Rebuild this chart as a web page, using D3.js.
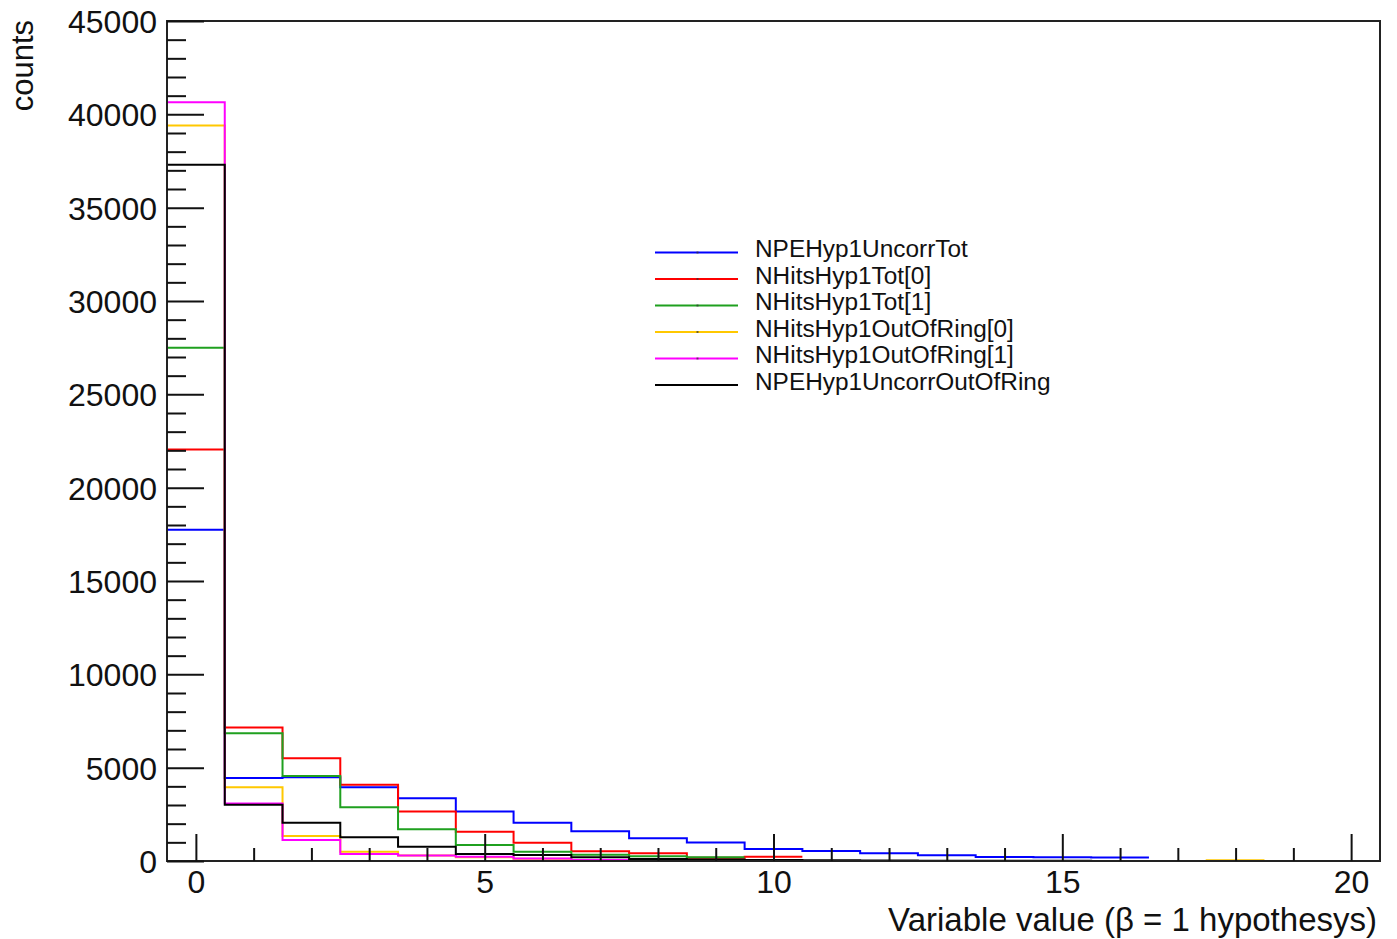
<!DOCTYPE html>
<html>
<head>
<meta charset="utf-8">
<script src="https://cdn.jsdelivr.net/npm/d3@7"></script>
<style>
  html, body { margin: 0; padding: 0; background: #fff; }
  svg { display: block; }
  text { font-family: "Liberation Sans", Arial, Helvetica, sans-serif; fill: #111; }
</style>
</head>
<body>
<script>
// ---------------- data ----------------
const binCenters = d3.range(0, 21);           // bins of width 1 centred on 0..20
const xTickLabels = ["0", "5", "10", "15", "20"];
const yTickLabels = ["0", "5000", "10000", "15000", "20000", "25000", "30000", "35000", "40000", "45000"];

const seriesNames = [
  "NPEHyp1UncorrTot",
  "NHitsHyp1Tot[0]",
  "NHitsHyp1Tot[1]",
  "NHitsHyp1OutOfRing[0]",
  "NHitsHyp1OutOfRing[1]",
  "NPEHyp1UncorrOutOfRing"
];
const seriesColors = ["#0000ff", "#ff0000", "#1fa01f", "#ffc800", "#ff00ff", "#000000"];

const npeUncorrTot      = [17750, 4450, 4480, 3950, 3360, 2650, 2050, 1590, 1220, 990, 640, 530, 410, 310, 210, 200, 190];
const nHitsTot0         = [22050, 7150, 5500, 4080, 2650, 1570, 980, 520, 410, 180, 230];
const nHitsTot1         = [27500, 6850, 4560, 2880, 1700, 860, 500, 330, 250, 200];
const nHitsOutOfRing0   = [39400, 3950, 1340, 500, 290, 200, 120, 60, 40, 20, 10, 0, 0, 0, 0, 0, 0, 0, 40];
const nHitsOutOfRing1   = [40650, 3080, 1130, 380, 300, 230, 140, 55, 45, 10, 0, 0, 0, 0, 0, 0, 0, 0, 0, 0, 0];
const npeUncorrOutOfRing= [37300, 3020, 2050, 1270, 770, 380, 320, 200, 110, 80, 60, 40, 30, 20, 15, 10, 5];

const seriesValues = [npeUncorrTot, nHitsTot0, nHitsTot1, nHitsOutOfRing0, nHitsOutOfRing1, npeUncorrOutOfRing];

const xTitle = "Variable value (\u03B2 = 1 hypothesys)";
const yTitle = "counts";

// ---------------- layout ----------------
const W = 1397, H = 939;
const frame = { left: 167, top: 21, right: 1380, bottom: 861 };

const svg = d3.select("body").append("svg").attr("width", W).attr("height", H);
svg.append("rect").attr("width", W).attr("height", H).attr("fill", "#fff");

const x = d3.scaleLinear().domain([-0.5, 20.5]).range([frame.left, frame.right]);
const y = d3.scaleLinear().domain([0, 45000]).range([frame.bottom, frame.top]);

// ---------------- histograms ----------------
const line = d3.line().x(d => x(d[0])).y(d => y(d[1]));
seriesValues.forEach((vals, si) => {
  const pts = [];
  vals.forEach((v, i) => {
    pts.push([binCenters[i] - 0.5, v]);
    pts.push([binCenters[i] + 0.5, v]);
  });
  svg.append("path")
    .attr("d", line(pts))
    .attr("fill", "none")
    .attr("stroke", seriesColors[si])
    .attr("stroke-width", 2)
    .attr("stroke-linejoin", "miter");
});

// ---------------- frame ----------------
svg.append("rect")
  .attr("x", frame.left).attr("y", frame.top)
  .attr("width", frame.right - frame.left).attr("height", frame.bottom - frame.top)
  .attr("fill", "none").attr("stroke", "#222").attr("stroke-width", 2);

// ---------------- axes ----------------
const xMajor = xTickLabels.map(Number);
const xMinor = d3.range(0, 21).filter(v => !xMajor.includes(v));
const xAxisMajor = d3.axisBottom(x).tickValues(xMajor).tickSize(-27).tickFormat((d, i) => xTickLabels[i]);
const xAxisMinor = d3.axisBottom(x).tickValues(xMinor).tickSize(-13).tickFormat("");
const gxMin = svg.append("g").attr("transform", `translate(0,${frame.bottom})`).call(xAxisMinor);
const gx = svg.append("g").attr("transform", `translate(0,${frame.bottom})`).call(xAxisMajor);
[gx, gxMin].forEach(g => {
  g.select(".domain").remove();
  g.selectAll(".tick line").attr("stroke", "#111").attr("stroke-width", 2);
});
gx.selectAll(".tick text")
  .attr("y", 32).attr("dy", 0)
  .style("font-size", "32px").style("font-family", '"Liberation Sans", Arial, sans-serif').attr("fill", "#111");

const yMajor = yTickLabels.map(Number);
const yMinor = d3.range(0, 45001, 1000).filter(v => !yMajor.includes(v));
const yAxisMajor = d3.axisLeft(y).tickValues(yMajor).tickSize(-37).tickFormat((d, i) => yTickLabels[i]);
const yAxisMinor = d3.axisLeft(y).tickValues(yMinor).tickSize(-19).tickFormat("");
const gyMin = svg.append("g").attr("transform", `translate(${frame.left},0)`).call(yAxisMinor);
const gy = svg.append("g").attr("transform", `translate(${frame.left},0)`).call(yAxisMajor);
[gy, gyMin].forEach(g => {
  g.select(".domain").remove();
  g.selectAll(".tick line").attr("stroke", "#111").attr("stroke-width", 2);
});
gy.selectAll(".tick text")
  .attr("x", -10).attr("dy", "0.36em")
  .style("font-size", "32px").style("font-family", '"Liberation Sans", Arial, sans-serif').attr("fill", "#111");

// ---------------- titles ----------------
svg.append("text")
  .attr("x", 1377).attr("y", 931)
  .attr("text-anchor", "end")
  .style("font-size", "33px")
  .text(xTitle);

svg.append("text")
  .attr("transform", "translate(33,20) rotate(-90)")
  .attr("text-anchor", "end")
  .style("font-size", "31px")
  .text(yTitle);

// ---------------- legend ----------------
const legY0 = 252.5, legDy = 26.5;
const leg = svg.append("g");
seriesNames.forEach((name, i) => {
  const ly = legY0 + i * legDy;
  leg.append("line")
    .attr("x1", 655).attr("x2", 738).attr("y1", ly).attr("y2", ly)
    .attr("stroke", seriesColors[i]).attr("stroke-width", 2);
  if (i < seriesNames.length - 1) {
    leg.append("rect").attr("x", 696.5).attr("y", ly - 1).attr("width", 2).attr("height", 2)
      .attr("fill", "#333").attr("opacity", 0.7);
  }
  leg.append("text")
    .attr("x", 755).attr("y", ly + 4.5)
    .style("font-size", "24.4px")
    .text(name);
});
</script>
</body>
</html>
